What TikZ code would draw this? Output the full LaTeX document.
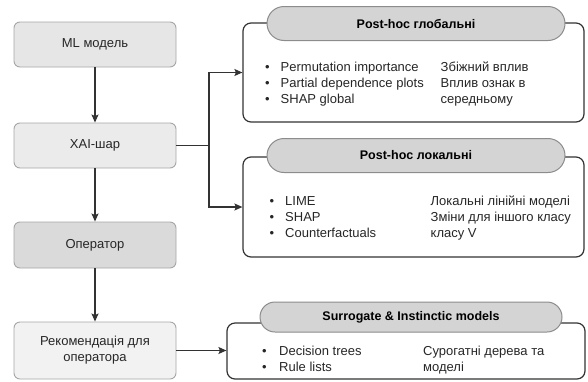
\documentclass[tikz,border=0pt]{standalone}
\usepackage{fontspec}
\setmainfont{Liberation Sans}
\usetikzlibrary{arrows.meta}
\definecolor{lboxline}{HTML}{A6A6A6}
\definecolor{fillA}{HTML}{E6E6E6}
\definecolor{fillB}{HTML}{EBEBEB}
\definecolor{fillC}{HTML}{DADADA}
\definecolor{fillD}{HTML}{F2F2F2}
\definecolor{pillfill}{HTML}{D4D4D4}
\definecolor{pillline}{HTML}{8C8C8C}
\definecolor{dark}{HTML}{333333}
\begin{document}
\begin{tikzpicture}[x=1pt,y=-1pt,
  lbox/.style={draw=lboxline, line width=0.9pt, rounded corners=6pt, minimum width=162pt, inner sep=0pt, align=center, font=\fontsize{13}{16}\selectfont, text=black!85},
  bigbox/.style={draw=dark, line width=1.2pt, rounded corners=8pt, inner sep=0pt},
  pill/.style={draw=pillline, line width=1pt, fill=pillfill, inner sep=0pt, font=\bfseries\fontsize{12.5}{15}\selectfont},
  txt/.style={anchor=base west, inner sep=0pt, font=\fontsize{13}{16}\selectfont, text=black!85},
  conn/.style={draw=dark, line width=1.2pt},
  arr/.style={conn, -{Stealth[length=8pt,width=7pt,inset=1.5pt]}}
]
\useasboundingbox (0,0) rectangle (588,381);
% left column
\node[lbox, fill=fillA, minimum height=45pt] (ml) at (95,44.5) {ML модель};
\node[lbox, fill=fillB, minimum height=45pt] (xai) at (95,145.5) {XAI-шар};
\node[lbox, fill=fillC, minimum height=46pt] (op) at (95,245) {Оператор};
\node[lbox, fill=fillD, minimum height=57pt] (rec) at (95,350.5) {Рекомендація для\\оператора};
% big boxes
\node[bigbox, minimum width=341pt, minimum height=99pt] (glob) at (413.5,72.5) {};
\node[bigbox, minimum width=341pt, minimum height=100pt] (loc) at (413.5,207) {};
\node[bigbox, minimum width=358pt, minimum height=56pt] (sur) at (406,351) {};
% pills
\node[pill, rounded corners=17pt, minimum width=298pt, minimum height=34pt] (pg) at (416,23.5) {Post-hoc глобальні};
\node[pill, rounded corners=17pt, minimum width=298pt, minimum height=34pt] (pl) at (416,155.5) {Post-hoc локальні};
\node[pill, rounded corners=15pt, minimum width=302pt, minimum height=30pt] (ps) at (411,317) {Surrogate \& Instinctic models};
% texts top box
\node[txt] (g1b) at (265,71) {\textbullet};
\node[txt] (g1) at (280.5,71) {Permutation importance};
\node[txt] (g2b) at (265,87) {\textbullet};
\node[txt] (g2) at (280.5,87) {Partial dependence plots};
\node[txt] (g3b) at (265,103) {\textbullet};
\node[txt] (g3) at (280.5,103) {SHAP global};
\node[txt] (gr1) at (440.5,71) {Збіжний вплив};
\node[txt] (gr2) at (440.5,87) {Вплив ознак в};
\node[txt] (gr3) at (440.5,103) {середньому};
% texts local box
\node[txt] (l1b) at (269.5,205) {\textbullet};
\node[txt] (l1) at (285,205) {LIME};
\node[txt] (l2b) at (269.5,221) {\textbullet};
\node[txt] (l2) at (285,221) {SHAP};
\node[txt] (l3b) at (269.5,237) {\textbullet};
\node[txt] (l3) at (285,237) {Counterfactuals};
\node[txt] (lr1) at (430.5,205) {Локальні лінійні моделі};
\node[txt] (lr2) at (430.5,221) {Зміни для іншого класу};
\node[txt] (lr3) at (430.5,237) {класу V};
% texts surrogate box
\node[txt] (s1b) at (262,355) {\textbullet};
\node[txt] (s1) at (279,355) {Decision trees};
\node[txt] (s2b) at (262,371) {\textbullet};
\node[txt] (s2) at (279,371) {Rule lists};
\node[txt] (sr1) at (423,355) {Сурогатні дерева та};
\node[txt] (sr2) at (423,371) {моделі};
% connectors
\coordinate (br) at (209,145.5);
\draw[arr] (ml) -- (xai);
\draw[arr] (xai) -- (op);
\draw[arr] (op) -- (rec);
\draw[conn] (xai.east) -- (br);
\draw[arr] (br) |- (glob.west);
\draw[arr] (br) |- (loc.west);
\draw[arr] (rec.east) -- (rec.east -| sur.west);
\end{tikzpicture}
\end{document}
